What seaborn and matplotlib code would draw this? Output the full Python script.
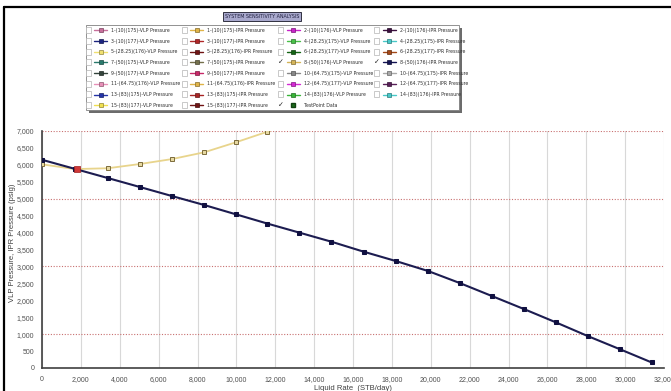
import matplotlib
matplotlib.use("Agg")
import matplotlib.pyplot as plt
from matplotlib import font_manager
from matplotlib.font_manager import FontProperties
from matplotlib.lines import Line2D
from matplotlib.patches import Rectangle
from matplotlib.ticker import FuncFormatter, MultipleLocator
import seaborn as sns
import pandas as pd

# ---------------- data ----------------
ipr_rate = [0, 1700, 3390, 5040, 6680, 8340, 9970, 11600, 13230, 14890,
            16550, 18200, 19860, 21490, 23150, 24800, 26430, 28070, 29750, 31360]
ipr_pressure = [6150, 5880, 5610, 5345, 5080, 4815, 4540, 4265, 4000, 3730,
                3435, 3160, 2865, 2510, 2125, 1740, 1350, 945, 550, 165]
vlp_rate = [0, 1700, 3390, 5040, 6680, 8340, 9970, 11600, 13230]
vlp_pressure = [6015, 5875, 5900, 6025, 6170, 6370, 6665, 6980, 7350]
test_rate = [1780]
test_pressure = [5865]

x_ticks = list(range(0, 32001, 2000))
y_ticks = list(range(0, 7001, 500))
red_grid = [1000, 3000, 5000, 7000]

title = "SYSTEM SENSITIVITY ANALYSIS"
x_label = "Liquid Rate  (STB/day)"
y_label = "VLP Pressure, IPR Pressure (psig)"

legend_cols = [
    ["1-(10)(175)-VLP Pressure", "3-(10)(177)-VLP Pressure", "5-(28.25)(176)-VLP Pressure",
     "7-(50)(175)-VLP Pressure", "9-(50)(177)-VLP Pressure", "11-(64.75)(176)-VLP Pressure",
     "13-(83)(175)-VLP Pressure", "15-(83)(177)-VLP Pressure"],
    ["1-(10)(175)-IPR Pressure", "3-(10)(177)-IPR Pressure", "5-(28.25)(176)-IPR Pressure",
     "7-(50)(175)-IPR Pressure", "9-(50)(177)-IPR Pressure", "11-(64.75)(176)-IPR Pressure",
     "13-(83)(175)-IPR Pressure", "15-(83)(177)-IPR Pressure"],
    ["2-(10)(176)-VLP Pressure", "4-(28.25)(175)-VLP Pressure", "6-(28.25)(177)-VLP Pressure",
     "8-(50)(176)-VLP Pressure", "10-(64.75)(175)-VLP Pressure", "12-(64.75)(177)-VLP Pressure",
     "14-(83)(176)-VLP Pressure", "TestPoint Data"],
    ["2-(10)(176)-IPR Pressure", "4-(28.25)(175)-IPR Pressure", "6-(28.25)(177)-IPR Pressure",
     "8-(50)(176)-IPR Pressure", "10-(64.75)(175)-IPR Pressure", "12-(64.75)(177)-IPR Pressure",
     "14-(83)(176)-IPR Pressure"],
]
legend_colors = [
    ["#c8709c", "#1c2480", "#f0e070", "#2a7a6c", "#34443c", "#e890b8", "#2434a8", "#f0e050"],
    ["#e0b448", "#b02828", "#701414", "#74704c", "#c82868", "#e0b448", "#a82424", "#701414"],
    ["#c824c8", "#48c048", "#146414", "#d4b458", "#888888", "#d428d4", "#38b438", "#1c6c1c"],
    ["#3c1040", "#48c8c8", "#a44818", "#141454", "#a8a8a8", "#582058", "#48c8c8"],
]
legend_checked = ["8-(50)(176)-VLP Pressure", "8-(50)(176)-IPR Pressure", "TestPoint Data"]

# ---------------- style ----------------
sns.set_theme(style="white")
plt.rcParams["font.family"] = ["Liberation Sans", "DejaVu Sans"]


def pick_narrow_font():
    entries = font_manager.fontManager.ttflist
    prefs = [("Liberation Sans Narrow", None), ("DejaVu Sans", "condensed"),
             ("Roboto Condensed", None), ("Open Sans Condensed", None),
             ("Noto Sans", "condensed"), ("Open Sans", "condensed")]
    for name, stretch in prefs:
        for f in entries:
            if f.name != name or f.weight not in (400, "normal", "regular") or f.style != "normal":
                continue
            if stretch is None or str(f.stretch) in ("condensed", "semi-condensed", "75", "87.5"):
                return FontProperties(fname=f.fname)
    return FontProperties(family=["Liberation Sans", "DejaVu Sans"])


narrow_fp = pick_narrow_font()

W, H = 671, 391
fig = plt.figure(figsize=(W / 100, H / 100), dpi=100)
fig.patch.set_facecolor("white")
renderer = fig.canvas.get_renderer()


def P(x, y):
    return (x / W, 1 - y / H)


def fit_size(texts, target_px, base=5.0):
    t = fig.text(0, 0, max(texts, key=len), fontproperties=narrow_fp, fontsize=base)
    w = max(
        (t.set_text(s), t.get_window_extent(renderer).width)[1] for s in texts)
    t.remove()
    return base * target_px / w


ax = fig.add_axes([42 / W, 1 - 368 / H, (664 - 42) / W, (368 - 131) / H])

ipr_df = pd.DataFrame({"rate": ipr_rate, "pressure": ipr_pressure})
vlp_df = pd.DataFrame({"rate": vlp_rate, "pressure": vlp_pressure})
test_df = pd.DataFrame({"rate": test_rate, "pressure": test_pressure})

sns.lineplot(data=vlp_df, x="rate", y="pressure", ax=ax, color="#e8d48c", lw=1.3,
             marker="s", markersize=3.2, markerfacecolor="#e6d8a0",
             markeredgecolor="#7c6c3c", markeredgewidth=0.7, sort=False, zorder=3)
sns.lineplot(data=ipr_df, x="rate", y="pressure", ax=ax, color="#1c1c50", lw=1.5,
             marker="s", markersize=3.2, markerfacecolor="#101040",
             markeredgecolor="#101040", sort=False, zorder=4)
sns.scatterplot(data=test_df, x="rate", y="pressure", ax=ax, marker="s", s=22,
                color="#d03838", edgecolor="#a02020", linewidth=0.5, zorder=5)

ax.set_xlim(0, 32000)
ax.set_ylim(0, 7000)
ax.set_xticks(x_ticks)
ax.set_yticks(y_ticks)
ax.xaxis.set_minor_locator(MultipleLocator(500))
ax.yaxis.set_minor_locator(MultipleLocator(100))
fmt = FuncFormatter(lambda v, p: f"{v:,.0f}")
ax.xaxis.set_major_formatter(fmt)
ax.yaxis.set_major_formatter(fmt)
ax.tick_params(axis="both", which="major", labelsize=5, labelcolor="#505050",
               color="#505050", length=2.5, width=0.6, direction="out")
ax.tick_params(axis="both", which="minor", color="#707070", length=1.5, width=0.5,
               direction="out")
ax.tick_params(axis="y", which="major", pad=3)
ax.tick_params(axis="x", which="major", pad=3)
ax.xaxis.grid(True, which="major", color="#d8d8d8", lw=0.8)
for v in red_grid:
    ax.axhline(v, color="#c87070", lw=0.8, ls=(0, (1, 1.5)), zorder=1)
for s in ["top", "right"]:
    ax.spines[s].set_visible(False)
for s in ["left", "bottom"]:
    ax.spines[s].set_color("#404040")
    ax.spines[s].set_linewidth(1.2)
ax.set_xlabel(x_label, fontsize=5.5, color="#404040", va="center")
ax.set_ylabel(y_label, fontsize=5.5, color="#404040", va="center")
ax.xaxis.set_label_coords(0.5, (368 - 388) / 237)
ax.yaxis.set_label_coords((13 - 42) / 622, (368 - 243) / 237)

# ---------------- outer frame ----------------
fig.add_artist(Line2D([P(4, 7)[0], 1.0], [P(4, 7)[1]] * 2, transform=fig.transFigure,
                      color="black", lw=1.6))
fig.add_artist(Line2D([P(4, 7)[0]] * 2, [P(4, 7)[1], 0.0], transform=fig.transFigure,
                      color="black", lw=1.6))

# ---------------- title ----------------
title_size = fit_size([title], 76)
fig.text(*P(262, 16.5), title, ha="center", va="center", fontproperties=narrow_fp,
         fontsize=title_size, color="#202040",
         bbox=dict(boxstyle="square,pad=0.3", fc="#a8a8cc", ec="#303040", lw=0.7))

# ---------------- legend ----------------
lx0, ly0, lx1, ly1 = 86, 25, 459, 110
fig.add_artist(Rectangle(P(lx0 + 3, ly1 + 3), (lx1 - lx0) / W, (ly1 - ly0) / H,
                         transform=fig.transFigure, fc="#6c6c6c", ec="none"))
fig.add_artist(Rectangle(P(lx0, ly1), (lx1 - lx0) / W, (ly1 - ly0) / H,
                         transform=fig.transFigure, fc="white", ec="#808080", lw=0.6))


def darker(c, f=0.6):
    r, g, b = matplotlib.colors.to_rgb(c)
    return (r * f, g * f, b * f)


all_labels = [s for col in legend_cols for s in col]
leg_size = fit_size(all_labels, 69)

for ci, (labels, colors) in enumerate(zip(legend_cols, legend_colors)):
    x0 = 88.3 + ci * 96.1
    for ri, (lab, col) in enumerate(zip(labels, colors)):
        y = 30.3 + ri * 10.7
        if lab in legend_checked:
            fig.text(*P(x0, y), "\u2713", ha="center", va="center", fontsize=5,
                     color="#202020", family="DejaVu Sans")
        else:
            fig.add_artist(Rectangle(P(x0 - 2.5, y + 3), 5 / W, 6 / H,
                                     transform=fig.transFigure, fc="white",
                                     ec="#b4b4b4", lw=0.5))
        if lab == "TestPoint Data":
            fig.add_artist(Line2D([P(x0 + 12.5, y)[0]], [P(x0 + 12.5, y)[1]],
                                  transform=fig.transFigure, marker="s", ms=3.2,
                                  mfc=col, mec=darker(col), ls="none"))
        else:
            fig.add_artist(Line2D([P(x0 + 6, y)[0], P(x0 + 19, y)[0]], [P(x0, y)[1]] * 2,
                                  transform=fig.transFigure, color=col, lw=1.0))
            fig.add_artist(Line2D([P(x0 + 12.5, y)[0]], [P(x0 + 12.5, y)[1]],
                                  transform=fig.transFigure, marker="s", ms=2.8,
                                  mfc=col, mec=darker(col), mew=0.5, ls="none"))
        fig.text(*P(x0 + 23, y), lab, ha="left", va="center", fontproperties=narrow_fp,
                 fontsize=leg_size, color="#303030")

fig.savefig("out.png", dpi=100)
